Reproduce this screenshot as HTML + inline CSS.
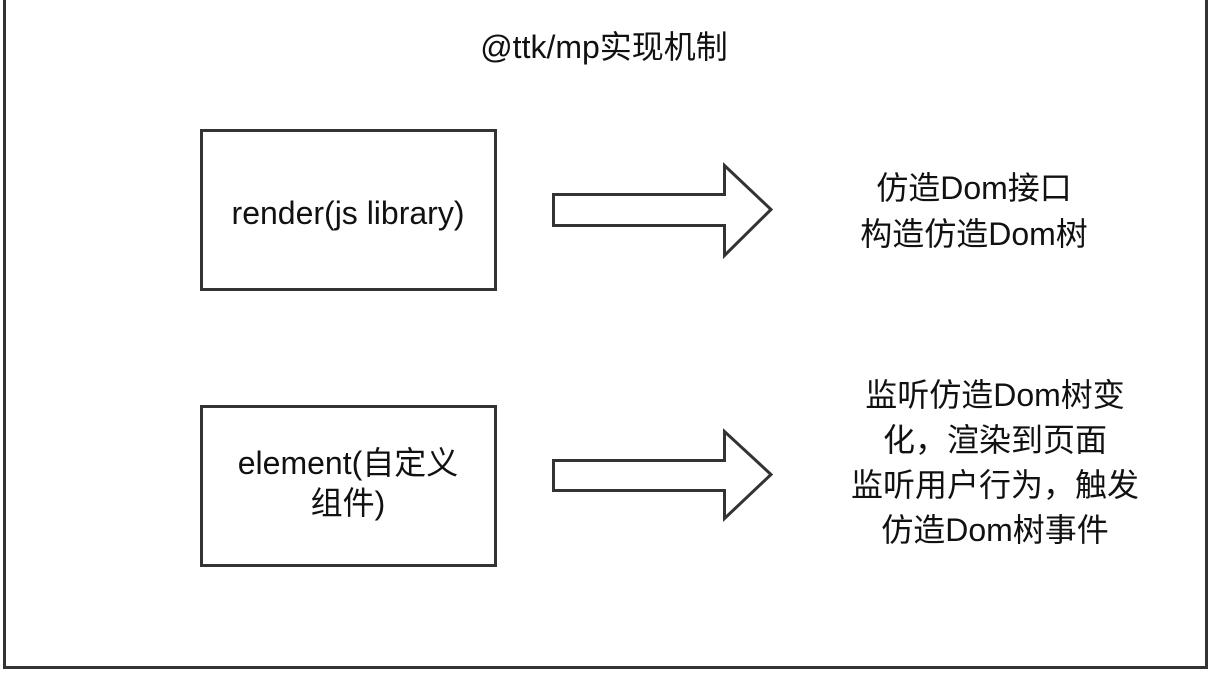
<!DOCTYPE html>
<html><head><meta charset="utf-8"><style>
body{margin:0;background:#fff;width:1208px;height:674px;overflow:hidden;position:relative;font-family:"Liberation Sans","Noto Sans CJK SC",sans-serif;color:#111}
.t{position:absolute;text-align:center;font-size:32px;line-height:46px;white-space:nowrap}
</style></head><body>
<svg width="1208" height="674" style="position:absolute;left:0;top:0">
<g fill="none" stroke="#333" stroke-width="3">
<path d="M4.5 0 V667.5 H1206.5 V0"/>
<rect x="201.5" y="130.5" width="294" height="159"/>
<rect x="201.5" y="406.5" width="294" height="159"/>
<g stroke-linejoin="miter">
<path d="M553.5 194.5 H724.5 V165.5 L771 209.5 L724.5 255.5 V225.5 H553.5 Z"/>
<path d="M553.5 460.5 H724.5 V431.5 L771 474.5 L724.5 518.5 V490.5 H553.5 Z"/>
</g></g></svg>
<div class="t" style="left:354px;top:24px;width:500px">@ttk/mp实现机制</div>
<div class="t" style="left:148px;top:190px;width:400px">render(js library)</div>
<div class="t" style="left:148px;top:443px;width:400px;line-height:40px">element(自定义<br>组件)</div>
<div class="t" style="left:774px;top:165px;width:400px">仿造Dom接口<br>构造仿造Dom树</div>
<div class="t" style="left:795px;top:373px;width:400px;line-height:45px">监听仿造Dom树变<br>化，渲染到页面<br>监听用户行为，触发<br>仿造Dom树事件</div>
</body></html>
